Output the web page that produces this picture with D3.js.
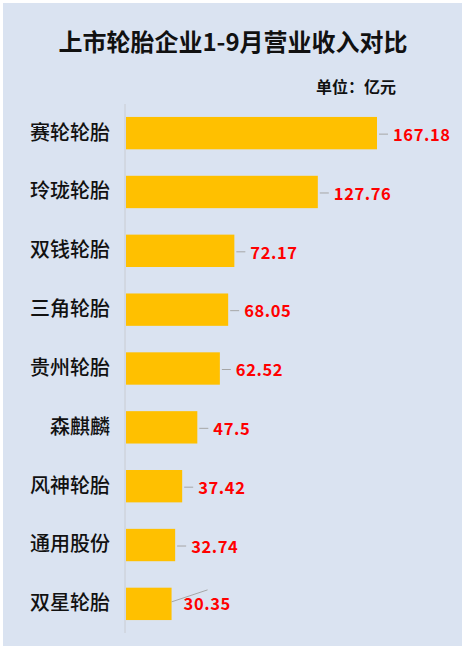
<!DOCTYPE html>
<html>
<head>
<meta charset="utf-8">
<script src="https://cdn.jsdelivr.net/npm/d3@7"></script>
<style>
  body { margin: 0; background: #fff; }
  text { font-family: "Noto Sans CJK SC", "Noto Sans", sans-serif; }
</style>
</head>
<body>
<div id="chart"></div>
<script>
// Chart data
const companies = ["赛轮轮胎", "玲珑轮胎", "双钱轮胎", "三角轮胎", "贵州轮胎", "森麒麟", "风神轮胎", "通用股份", "双星轮胎"];
const revenue = [167.18, 127.76, 72.17, 68.05, 62.52, 47.5, 37.42, 32.74, 30.35];
const chartTitle = "上市轮胎企业1-9月营业收入对比";
const unitLabel = "单位：亿元";

const width = 466, height = 650;
const margin = {top: 104, right: 90, bottom: 17, left: 126};

const svg = d3.select("#chart").append("svg")
    .attr("width", width)
    .attr("height", height);

// Chart background panel
svg.append("rect")
    .attr("x", 3).attr("y", 3)
    .attr("width", width - 7).attr("height", height - 7)
    .attr("fill", "#dae3f1");

// Scales
const x = d3.scaleLinear()
    .domain([0, 167.18])
    .range([margin.left, margin.left + 251]);

const y = d3.scaleBand()
    .domain(companies)
    .range([margin.top, height - margin.bottom])
    .paddingInner(0.45)
    .paddingOuter(0.22);

// Title
svg.append("text")
    .attr("x", 233)
    .attr("y", 51)
    .attr("text-anchor", "middle")
    .attr("font-size", 24)
    .attr("font-weight", "bold")
    .attr("fill", "#111")
    .text(chartTitle);

svg.append("text")
    .attr("x", 396)
    .attr("y", 93)
    .attr("text-anchor", "end")
    .attr("font-size", 16)
    .attr("font-weight", "bold")
    .attr("fill", "#111")
    .text(unitLabel);

// Bars
const rows = companies.map((c, i) => ({name: c, value: revenue[i]}));

svg.append("g").selectAll("rect")
    .data(rows)
    .enter().append("rect")
    .attr("x", x(0))
    .attr("y", d => y(d.name))
    .attr("width", d => x(d.value) - x(0))
    .attr("height", y.bandwidth())
    .attr("fill", "#ffc000");

// Vertical axis with category labels
const yAxis = svg.append("g")
    .attr("transform", "translate(" + (margin.left - 1) + ",0)")
    .call(d3.axisLeft(y).tickSize(0).tickPadding(15));
yAxis.select(".domain")
    .attr("stroke", "#c9ccd2")
    .attr("d", "M0," + margin.top + "V" + (height - margin.bottom));
yAxis.selectAll("text")
    .attr("font-size", 20)
    .attr("font-weight", 500)
    .attr("fill", "#111")
    .attr("font-family", "\"Noto Sans CJK SC\", sans-serif");

// Leader lines
svg.append("g").selectAll("path")
    .data(rows)
    .enter().append("path")
    .attr("fill", "none")
    .attr("stroke", "#a6a6a6")
    .attr("stroke-width", 1)
    .attr("d", (d, i) => {
        const x0 = x(d.value), yc = y(d.name) + y.bandwidth() / 2;
        if (i === rows.length - 1) {
            return "M" + x0 + "," + (yc - 2) + "L" + (x0 + 36) + "," + (yc - 14);
        }
        return "M" + (x0 + 2) + "," + (yc + 1) + "L" + (x0 + 11) + "," + (yc + 1);
    });

// Value labels
svg.append("g").selectAll("text")
    .data(rows)
    .enter().append("text")
    .attr("x", (d, i) => i === rows.length - 1 ? x(d.value) + 12 : x(d.value) + 16)
    .attr("y", (d, i) => y(d.name) + y.bandwidth() / 2 + (i === rows.length - 1 ? 0 : 2))
    .attr("dy", "0.35em")
    .attr("font-size", 16.5)
    .attr("font-weight", "bold")
    .attr("letter-spacing", 0.6)
    .attr("fill", "#ff0000")
    .attr("font-family", "\"Liberation Sans\", sans-serif")
    .text(d => d.value);
</script>
</body>
</html>
